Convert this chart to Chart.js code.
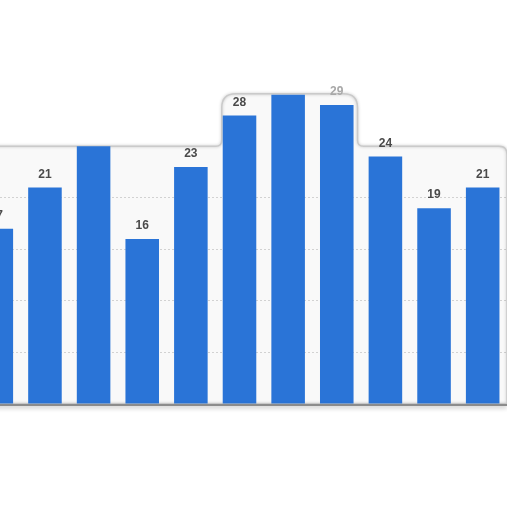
<!DOCTYPE html>
<html>
<head>
<meta charset="utf-8">
<script src="https://cdn.jsdelivr.net/npm/chart.js@4/dist/chart.umd.min.js"></script>
<style>
  html, body { margin: 0; padding: 0; background: #fff; overflow: hidden; }
  body { width: 512px; height: 512px; position: relative; }
  #wrap { position: absolute; left: -28px; top: 0; width: 535px; height: 512px; }
</style>
</head>
<body>
<div id="wrap"><canvas id="chart"></canvas></div>
<script>
// values (category names are not visible)
const categories = ['1', '2', '3', '4', '5', '6', '7', '8', '9', '10', '11'];
const values = [17, 21, 25, 16, 23, 28, 30, 29, 24, 19, 21];
const labelShown = [true, true, false, true, true, true, false, true, true, true, true];
const gridTicks = [5, 10, 15, 20];
const cardTop = 25;

const BLUE = '#2a74d7';

// light card behind the bars, with its raised top over the tallest run
const cardPlugin = {
  id: 'card',
  raisedTop(chart){
    const run = values.filter(v => v > cardTop);
    return run.length ? chart.scales.y.getPixelForValue(Math.max(...run)) - 1 : null;
  },
  path(chart){
    const {chartArea: a, scales: {y}} = chart;
    const bars = chart.getDatasetMeta(0).data;
    const base = y.getPixelForValue(0);
    const yc = y.getPixelForValue(cardTop);
    const run = values.map((v, i) => v > cardTop ? i : -1).filter(i => i >= 0);
    const p = new Path2D();
    p.moveTo(a.left, base);
    p.lineTo(a.left, yc);
    if(run.length){
      const first = bars[run[0]], last = bars[run[run.length-1]];
      const yt = this.raisedTop(chart);
      const x0 = first.x - first.width/2 - 1;
      const x1 = last.x + last.width/2 + 4;
      const r1 = 14, r2 = 6;
      p.lineTo(x0 - r2, yc);
      p.quadraticCurveTo(x0, yc, x0, yc - r2);
      p.lineTo(x0, yt + r1);
      p.quadraticCurveTo(x0, yt, x0 + r1, yt);
      p.lineTo(x1 - r1, yt);
      p.quadraticCurveTo(x1, yt, x1, yt + r1);
      p.lineTo(x1, yc - r2);
      p.quadraticCurveTo(x1, yc, x1 + r2, yc);
    }
    const r3 = 8;
    p.lineTo(a.right - r3, yc);
    p.quadraticCurveTo(a.right, yc, a.right, yc + r3);
    p.lineTo(a.right, base);
    p.closePath();
    return p;
  },
  beforeDraw(chart){
    const ctx = chart.ctx;
    ctx.save();
    ctx.fillStyle = '#f9f9f9';
    ctx.fill(this.path(chart));
    ctx.restore();
  },
  beforeDatasetsDraw(chart){
    const ctx = chart.ctx;
    ctx.save();
    ctx.strokeStyle = '#cacaca';
    ctx.lineWidth = 1.5;
    ctx.shadowColor = 'rgba(0,0,0,0.25)';
    ctx.shadowBlur = 3;
    ctx.stroke(this.path(chart));
    ctx.restore();
  },
  afterDatasetsDraw(chart){
    const {ctx, chartArea: a, scales: {y}} = chart;
    const base = y.getPixelForValue(0) + 1;
    ctx.save();
    ctx.strokeStyle = '#8c8c8c';
    ctx.lineWidth = 2;
    ctx.shadowColor = 'rgba(0,0,0,0.3)';
    ctx.shadowBlur = 4;
    ctx.shadowOffsetY = 2;
    ctx.beginPath();
    ctx.moveTo(a.left, base);
    ctx.lineTo(a.right, base);
    ctx.stroke();
    ctx.restore();

    // value labels above the bars; the ones poking over the card edge look washed out
    const yt = this.raisedTop(chart);
    ctx.save();
    ctx.font = 'bold 12px "Liberation Sans", Arial, sans-serif';
    ctx.textAlign = 'center';
    ctx.textBaseline = 'bottom';
    chart.getDatasetMeta(0).data.forEach((bar, i) => {
      if(!labelShown[i]) return;
      const ty = bar.y - 7;
      ctx.fillStyle = (yt !== null && ty - 9 < yt) ? '#a8a8a8' : '#4a4a4a';
      ctx.fillText(String(values[i]), bar.x, ty);
    });
    ctx.restore();
  }
};

new Chart(document.getElementById('chart'), {
  type: 'bar',
  data: {
    labels: categories,
    datasets: [{
      data: values,
      backgroundColor: BLUE,
      borderWidth: 0,
      categoryPercentage: 1,
      barPercentage: 0.69,
    }]
  },
  options: {
    responsive: true,
    maintainAspectRatio: false,
    animation: false,
    layout: { padding: { top: 2, bottom: 108, left: 0, right: 0 } },
    plugins: { legend: { display: false }, tooltip: { enabled: false } },
    scales: {
      x: { display: false },
      y: {
        min: 0,
        max: 39,
        ticks: { display: false, stepSize: 5 },
        border: { display: false, dash: [2, 2] },
        grid: {
          drawTicks: false,
          color: (c) => gridTicks.includes(c.tick && c.tick.value) ? '#d2d2d2' : 'rgba(0,0,0,0)',
          lineWidth: 1,
        },
        afterFit: (s) => { s.width = 0; },
      }
    }
  },
  plugins: [cardPlugin]
});
</script>
</body>
</html>
